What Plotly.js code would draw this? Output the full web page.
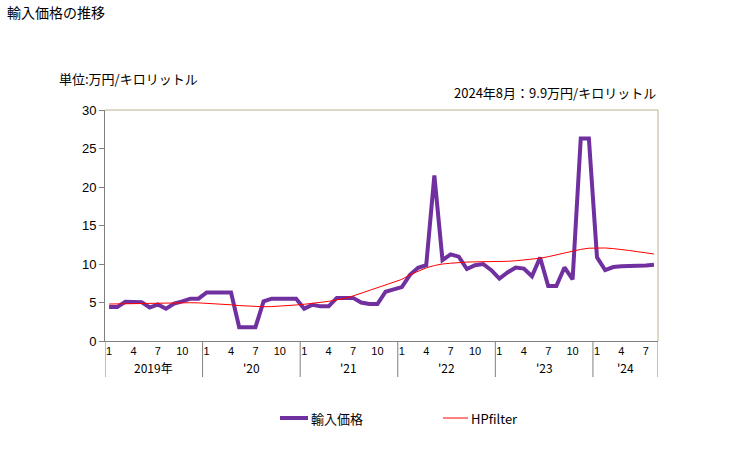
<!DOCTYPE html>
<html><head><meta charset="utf-8">
<script src="https://cdn.plot.ly/plotly-3.0.1.min.js"></script>
<style>body{margin:0;background:#fff}#c{width:729px;height:450px}</style>
</head><body><div id="c"></div>
<script>
const years = ["2019年","'20","'21","'22","'23","'24"];
const monthTickLabels = ["1","4","7","10"];
const importPrice = [
 4.4,4.4,5.1,5.05,5.05,4.35,4.75,4.2,4.85,5.15,5.5,5.5,
 6.3,6.3,6.3,6.3,1.8,1.8,1.8,5.15,5.5,5.5,5.5,5.5,
 4.2,4.7,4.5,4.5,5.6,5.6,5.6,5.0,4.8,4.8,6.4,6.7,
 7.0,8.6,9.5,9.85,21.5,10.5,11.25,10.95,9.35,9.85,10.0,9.2,
 8.1,8.9,9.55,9.4,8.4,10.85,7.15,7.15,9.55,8.0,26.3,26.3,
 10.85,9.2,9.6,9.7,9.7,9.75,9.8,9.9];
const hpFilter = [
 4.8,4.82,4.85,4.88,4.9,4.92,4.95,4.96,4.97,4.97,4.97,4.95,
 4.9,4.85,4.78,4.7,4.6,4.52,4.47,4.45,4.47,4.52,4.6,4.68,
 4.77,4.88,5.0,5.15,5.35,5.55,5.85,6.2,6.5,6.85,7.2,7.6,
 8.0,8.6,9.1,9.5,9.8,10.0,10.1,10.2,10.25,10.28,10.28,10.28,
 10.3,10.35,10.42,10.5,10.6,10.75,10.95,11.2,11.45,11.7,11.9,12.05,
 12.1,12.08,12.0,11.9,11.75,11.6,11.45,11.3];
const seriesNames = ["輸入価格","HPfilter"];

const xs = importPrice.map((_,i)=>i+0.5);
const tickvals=[], ticktext=[];
for(let y=0;y<years.length;y++){
  monthTickLabels.forEach(m=>{
    const idx=y*12+(+m)-1;
    if(idx<importPrice.length){tickvals.push(idx+0.5);ticktext.push(m);}
  });
}
const nMonths = importPrice.length;
const shapes=[], annotations=[];
for(let y=0;y<=years.length;y++){
  const xv=Math.min(y*12,nMonths);
  shapes.push({type:'line',xref:'x',yref:'paper',x0:xv,x1:xv,y0:0,y1:-0.156,line:{color:'#808080',width:1}});
}
years.forEach((t,y)=>{
  const a=y*12, b=Math.min(y*12+12,nMonths);
  annotations.push({xref:'x',yref:'paper',x:(a+b)/2,y:-(367-341)/231,text:t,showarrow:false,yanchor:'middle',font:{size:12,color:'#000'}});
});
// frame top/right
shapes.push({type:'line',xref:'paper',yref:'paper',x0:0,x1:1,y0:1,y1:1,line:{color:'#c0b088',width:1}});
shapes.push({type:'line',xref:'paper',yref:'paper',x0:1,x1:1,y0:0,y1:1,line:{color:'#c0b088',width:1}});
// legend
const ly=-(418-341)/231;
shapes.push({type:'line',xref:'paper',yref:'paper',x0:(280-105)/553,x1:(308-105)/553,y0:ly,y1:ly,line:{color:'#7030A0',width:4}});
shapes.push({type:'line',xref:'paper',yref:'paper',x0:(443-105)/553,x1:(468-105)/553,y0:ly,y1:ly,line:{color:'#FF0000',width:1}});
annotations.push({xref:'paper',yref:'paper',x:(309-105)/553,y:ly,xanchor:'left',yanchor:'middle',text:seriesNames[0],showarrow:false,font:{size:13,color:'#000'}});
annotations.push({xref:'paper',yref:'paper',x:(469-105)/553,y:ly,xanchor:'left',yanchor:'middle',text:seriesNames[1],showarrow:false,font:{size:13,color:'#000'}});
// titles
annotations.push({xref:'paper',yref:'paper',x:-100/553,y:(341-12)/231,xanchor:'left',yanchor:'middle',text:'輸入価格の推移',showarrow:false,font:{size:14,color:'#000'}});
annotations.push({xref:'paper',yref:'paper',x:-48/553,y:(341-78)/231,xanchor:'left',yanchor:'middle',text:'単位:万円/キロリットル',showarrow:false,font:{size:13,color:'#000'}});
annotations.push({xref:'paper',yref:'paper',x:1,y:(341-92)/231,xanchor:'right',yanchor:'middle',text:'2024年8月：9.9万円/キロリットル',showarrow:false,font:{size:13,color:'#000'}});

const data=[
 {x:xs,y:importPrice,type:'scatter',mode:'lines',name:seriesNames[0],line:{color:'#7030A0',width:4}},
 {x:xs,y:hpFilter,type:'scatter',mode:'lines',name:seriesNames[1],line:{color:'#FF0000',width:1}}
];
const layout={
 width:729,height:450,margin:{l:105,r:71,t:110,b:109},
 paper_bgcolor:'#fff',plot_bgcolor:'#fff',showlegend:false,
 font:{family:'"Noto Sans CJK JP", "DejaVu Sans", sans-serif',color:'#000'},
 xaxis:{range:[0,nMonths],tickvals:tickvals,ticktext:ticktext,showgrid:false,zeroline:false,
   showline:true,linecolor:'#808080',linewidth:1,ticks:'',ticklabelstandoff:0,tickfont:{size:11,family:'"Liberation Sans", Arial, sans-serif'},fixedrange:true},
 yaxis:{range:[0,30],dtick:5,showgrid:false,zeroline:false,showline:true,linecolor:'#808080',linewidth:1,
   ticks:'outside',ticklen:5,tickcolor:'#808080',tickfont:{size:13,family:'"Liberation Sans", Arial, sans-serif'},fixedrange:true},
 shapes:shapes,annotations:annotations
};
Plotly.newPlot('c',data,layout,{displayModeBar:false,staticPlot:true});
</script></body></html>
